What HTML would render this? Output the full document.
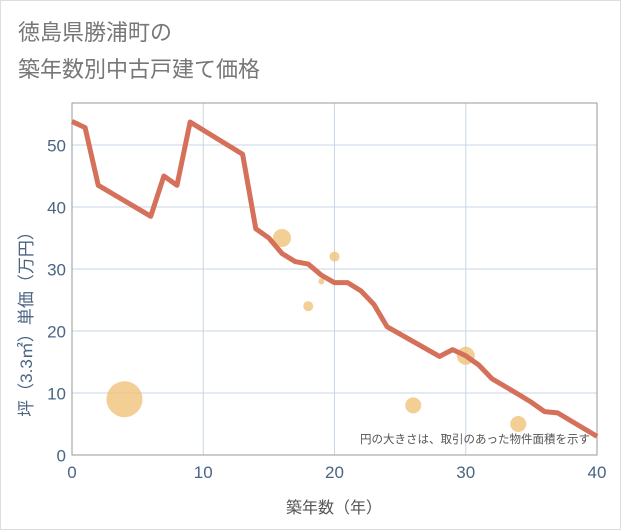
<!DOCTYPE html>
<html><head><meta charset="utf-8"><style>
body{margin:0;background:#fff;}
svg{display:block;font-family:"Liberation Sans","Noto Sans CJK JP",sans-serif;}
</style></head><body>
<svg width="621" height="530" viewBox="0 0 621 530">
<rect x="0.5" y="0.5" width="620" height="529" fill="#fff" stroke="#ddd"/>
<text x="18" y="40" font-size="22" fill="#777">徳島県勝浦町の</text>
<text x="18" y="77" font-size="22" fill="#777">築年数別中古戸建て価格</text>
<g id="grid"></g>
<rect x="72" y="103" width="525" height="352" fill="none" stroke="#999"/>
<g id="bubbles"></g>
<g id="line"></g>
<g id="ticks"></g>
<text x="590" y="443" font-size="11.5" text-anchor="end" fill="#555">円の大きさは、取引のあった物件面積を示す</text>
<text x="334" y="513" font-size="16" text-anchor="middle" fill="#555">築年数（年）</text>
<text transform="translate(32,320) rotate(-90)" font-size="17" text-anchor="middle" fill="#4a6482">坪（3.3㎡）単価（万円）</text>
</svg>
<script>
const lineX=[0,1,2,6,7,8,9,13,14,15,16,17,18,19,20,21,22,23,24,28,29,30,31,32,34,35,36,37,40];
const lineY=[53.8,52.8,43.5,38.5,45,43.5,53.7,48.5,36.5,35,32.5,31.2,30.8,29,27.8,27.8,26.5,24.3,20.7,15.9,17,16,14.5,12.3,9.8,8.5,7,6.8,3];
const bubX=[4,16,20,18,19,26,30,34];
const bubY=[9,35,32,24,28,8,16,5];
const bubR=[18,9,5,5,3,8,9,8];
const xTicks=[0,10,20,30,40];
const yTicks=[0,10,20,30,40,50];
const NS="http://www.w3.org/2000/svg";
const sx=v=>72+v*13.125, sy=v=>455-v*6.2;
function mk(t,p,a){const e=document.createElementNS(NS,t);for(const k in a)e.setAttribute(k,a[k]);p.appendChild(e);return e;}
const g=document.getElementById('grid'),tk=document.getElementById('ticks');
xTicks.forEach(v=>{
 if(v>0&&v<40){const l=mk('line',g,{x1:sx(v),x2:sx(v),y1:103,y2:455,stroke:'#c8d6e3'});
 
 }
 const t=mk('text',tk,{x:sx(v),y:478,'font-size':17,'text-anchor':'middle',fill:'#4a6482'});t.textContent=v;
 
 
});
yTicks.forEach(v=>{
 if(v>0){const l=mk('line',g,{x1:72,x2:597,y1:sy(v),y2:sy(v),stroke:'#c8d6e3'});
 
 }
 const t=mk('text',tk,{x:66,y:sy(v)+6.5,'font-size':17,'text-anchor':'end',fill:'#4a6482'});t.textContent=v;
 
 
});
const b=document.getElementById('bubbles');
bubX.forEach((v,i)=>{const c=mk('circle',b,{cx:sx(v),cy:sy(bubY[i]),r:bubR[i],fill:'#f0c27a','fill-opacity':0.8});
 
 });
const pl=mk('polyline',document.getElementById('line'),{points:lineX.map((v,i)=>sx(v)+','+sy(lineY[i])).join(' '),fill:'none',stroke:'#d5705a','stroke-width':5,'stroke-linejoin':'round'});


</script>
</body></html>
